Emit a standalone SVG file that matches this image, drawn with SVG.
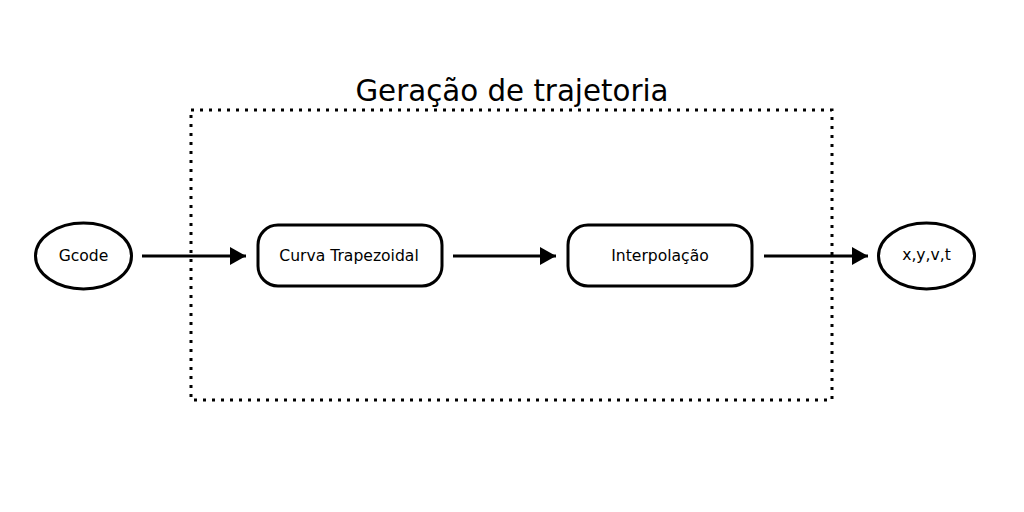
<svg xmlns="http://www.w3.org/2000/svg" width="1024" height="512" viewBox="0 0 1024 512">
<style>
.node{fill:#fff;stroke:#000;stroke-width:3}
.lbl{font-family:"DejaVu Sans",sans-serif;font-size:15.6px;fill:#000;text-anchor:middle;dominant-baseline:central}
.edge{stroke:#000;stroke-width:3;fill:none}
.title{font-family:"DejaVu Sans",sans-serif;font-size:29.3px;fill:#000;text-anchor:middle}
</style>
<defs>
<marker id="ah" markerWidth="16" markerHeight="18" refX="16" refY="9" orient="auto" markerUnits="userSpaceOnUse">
<path d="M0,0 L16,9 L0,18 Z" fill="#000"/>
</marker>
</defs>
<rect width="1024" height="512" fill="#fff"/>
<g id="group-box">
<rect x="191" y="110" width="641" height="290" fill="none" stroke="#000" stroke-width="3" stroke-dasharray="3 6"/>
<text class="title" x="512" y="101">Geração de trajetoria</text>
</g>
<g id="connectors">
<line class="edge" x1="142" y1="256" x2="246" y2="256" marker-end="url(#ah)"/>
<line class="edge" x1="453" y1="256" x2="556" y2="256" marker-end="url(#ah)"/>
<line class="edge" x1="764" y1="256" x2="868" y2="256" marker-end="url(#ah)"/>
</g>
<g id="gcode">
<ellipse class="node" cx="83.5" cy="256" rx="48" ry="33"/>
<text class="lbl" x="83.5" y="256">Gcode</text>
</g>
<g id="curva">
<rect class="node" x="258" y="225" width="184" height="61" rx="20" ry="20"/>
<text class="lbl" x="349" y="255.5">Curva Trapezoidal</text>
</g>
<g id="interp">
<rect class="node" x="568" y="225" width="184" height="61" rx="20" ry="20"/>
<text class="lbl" x="660" y="255.5">Interpolação</text>
</g>
<g id="out">
<ellipse class="node" cx="926.5" cy="256" rx="48" ry="33"/>
<text class="lbl" x="926.5" y="255">x,y,v,t</text>
</g>
</svg>
